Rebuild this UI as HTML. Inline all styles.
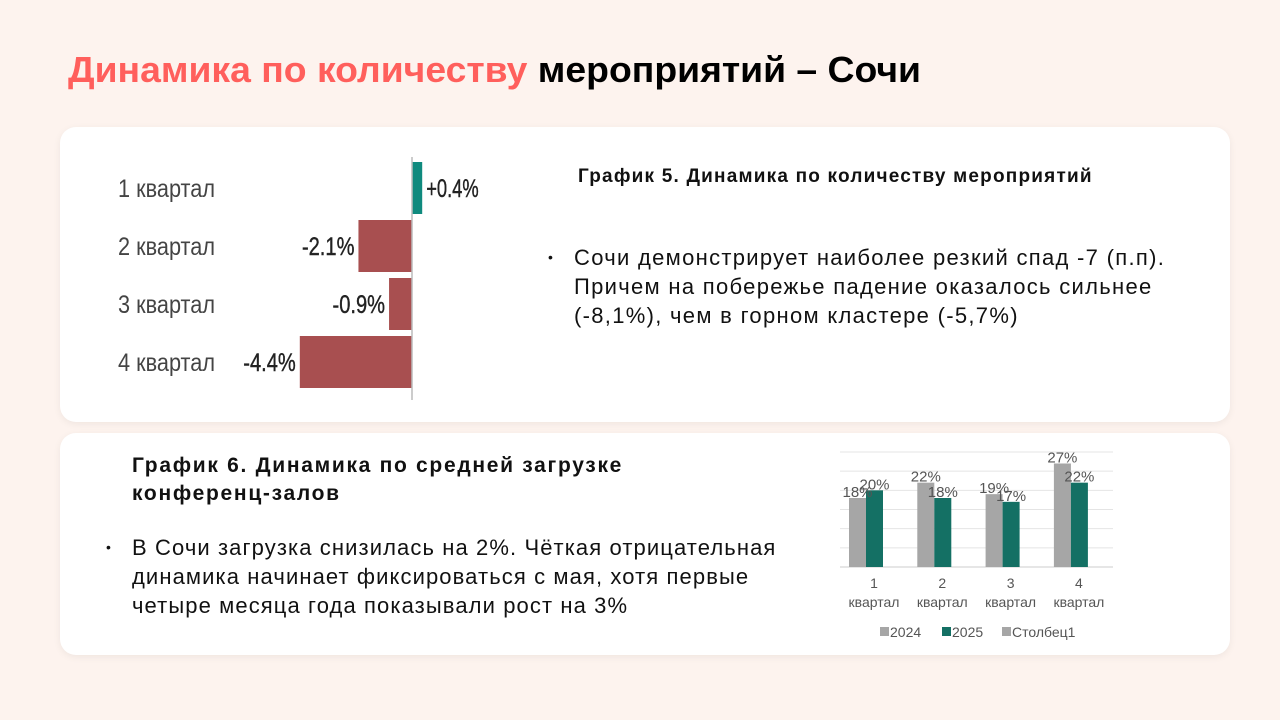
<!DOCTYPE html>
<html><head><meta charset="utf-8"><style>
body{margin:0;width:1280px;height:720px;background:#fdf3ee;font-family:"Liberation Sans","DejaVu Sans",sans-serif;overflow:hidden;position:relative}
.card{position:absolute;background:#fff;border-radius:16px;box-shadow:0 2px 8px rgba(0,0,0,0.06)}
.t{position:absolute;color:#111}
</style></head><body>
<svg style="position:absolute;left:0;top:0" width="1280" height="110">
<text x="68" y="82" font-size="36" font-weight="bold" textLength="853" lengthAdjust="spacingAndGlyphs" font-family="Liberation Sans, sans-serif"><tspan fill="#ff5f5c">Динамика по количеству</tspan><tspan fill="#000"> мероприятий – Сочи</tspan></text>
</svg>
<div class="card" style="left:60px;top:127px;width:1170px;height:295px"></div>
<div class="card" style="left:60px;top:433px;width:1170px;height:222px"></div>

<svg id="c5" style="position:absolute;left:0;top:0" width="540" height="420"></svg>

<div class="t" style="left:578px;top:166px;font-size:19px;font-weight:bold;letter-spacing:1.2px;white-space:nowrap">График 5. Динамика по количеству мероприятий</div>
<div class="t" style="left:548px;top:243px;font-size:22px;letter-spacing:1.3px;line-height:29px;width:650px;padding-left:26px;white-space:nowrap"><span style="position:absolute;left:0;font-size:14px">•</span>Сочи демонстрирует наиболее резкий спад -7 (п.п).<br>Причем на побережье падение оказалось сильнее<br>(-8,1%), чем в горном кластере (-5,7%)</div>

<div class="t" style="left:132px;top:452px;font-size:21px;font-weight:bold;letter-spacing:1.7px;line-height:28px;white-space:nowrap">График 6. Динамика по средней загрузке<br>конференц-залов</div>
<div class="t" style="left:106px;top:533px;font-size:22px;letter-spacing:1.1px;line-height:29px;width:700px;padding-left:26px;white-space:nowrap"><span style="position:absolute;left:0;font-size:14px">•</span>В Сочи загрузка снизилась на 2%. Чёткая отрицательная<br>динамика начинает фиксироваться с мая, хотя первые<br>четыре месяца года показывали рост на 3%</div>

<svg id="c6" style="position:absolute;left:0;top:0" width="1280" height="720"></svg>

<script>
const NS="http://www.w3.org/2000/svg";
function mk(svg,tag,attrs,txt){const e=document.createElementNS(NS,tag);for(const k in attrs)e.setAttribute(k,attrs[k]);if(txt!==undefined)e.textContent=txt;svg.appendChild(e);return e;}

// Chart 5 data
const c5Categories=["1 квартал","2 квартал","3 квартал","4 квартал"];
const c5Values=[0.4,-2.1,-0.9,-4.4];
const c5Labels=["+0.4%","-2.1%","-0.9%","-4.4%"];

const s5=document.getElementById('c5');
const x0=412, pxPer=25.5;
const xScale=v=>x0+v*pxPer;
const rowTop=162, rowStep=58, barH=52;
c5Values.forEach((v,i)=>{
  const y=rowTop+i*rowStep;
  const xa=Math.min(xScale(0),xScale(v)), w=Math.abs(xScale(v)-xScale(0));
  const r=mk(s5,'rect',{x:xa,y:y,width:w,height:barH,fill:v>=0?'#0f8a7e':'#a84f50'});
  
  
  const lab=mk(s5,'text',{x:v>=0?xScale(v)+4:xScale(v)-4,y:y+barH/2+9,'font-size':25,'text-anchor':v>=0?'start':'end',fill:'#222',stroke:'#222','stroke-width':0.4,textLength:c5Labels[i].length*10.5,lengthAdjust:'spacingAndGlyphs'},c5Labels[i]);
  
  
  const cat=mk(s5,'text',{x:118,y:y+barH/2+9,'font-size':25,fill:'#444',textLength:97,lengthAdjust:'spacingAndGlyphs'},c5Categories[i]);
  
  
});
const ax=mk(s5,'line',{x1:x0,x2:x0,y1:157,y2:400,stroke:'#bbb','stroke-width':1.5});



// Chart 6 data
const c6Categories=["1","2","3","4"];
const c6Series2024=[18,22,19,27];
const c6Series2025=[20,18,17,22];
const c6Ticks=[0,5,10,15,20,25,30];

const s6=document.getElementById('c6');
const base=567, pxPerPct=115/30;
const yScale=v=>base-v*pxPerPct;
const gx0=840, gx1=1113;
c6Ticks.forEach(t=>{
  const g=mk(s6,'line',{x1:gx0,x2:gx1,y1:yScale(t),y2:yScale(t),stroke:t===0?'#ccc':'#e4e4e4','stroke-width':1});
  
  
});
const gc0=866, gStep=68.3, bw=17;
c6Categories.forEach((c,i)=>{
  const cx=gc0+i*gStep;
  const a=c6Series2024[i], b=c6Series2025[i];
  const r1=mk(s6,'rect',{x:cx-bw,y:yScale(a),width:bw,height:base-yScale(a),fill:'#a6a6a6'});
  
  
  const r2=mk(s6,'rect',{x:cx,y:yScale(b),width:bw,height:base-yScale(b),fill:'#147064'});
  
  
  const l1=mk(s6,'text',{x:cx-bw/2,y:yScale(a)-1,'font-size':15,'text-anchor':'middle',fill:'#555'},a+'%');
  
  
  const l2=mk(s6,'text',{x:cx+bw/2,y:yScale(b)-1,'font-size':15,'text-anchor':'middle',fill:'#555'},b+'%');
  
  
  const t1=mk(s6,'text',{x:cx+8,y:588,'font-size':14,'text-anchor':'middle',fill:'#555'},c);
  
  
  const t2=mk(s6,'text',{x:cx+8,y:607,'font-size':14,'text-anchor':'middle',fill:'#555'},'квартал');
  
  
});
const legend=[["2024","#a6a6a6",880],["2025","#147064",942],["Столбец1","#a6a6a6",1002]];
legend.forEach(l=>{
  const r=mk(s6,'rect',{x:l[2],y:627,width:9,height:9,fill:l[1]});
  
  
  const t=mk(s6,'text',{x:l[2]+10,y:637,'font-size':14,fill:'#555'},l[0]);
  
  
});
</script>
</body></html>
